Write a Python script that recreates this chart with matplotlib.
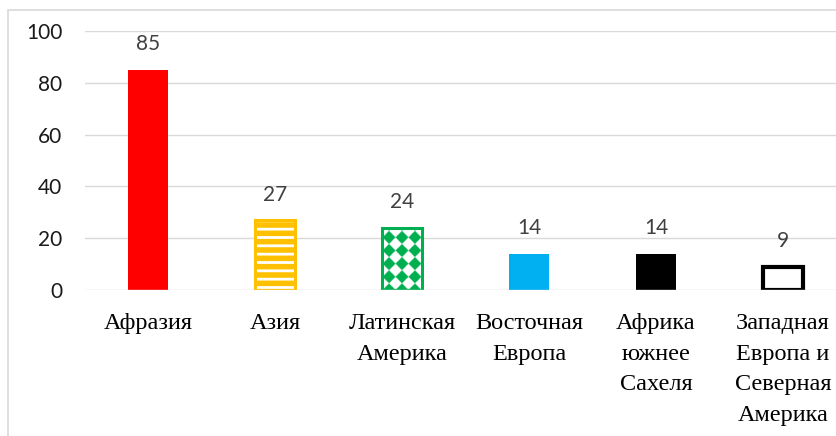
import numpy as np
import matplotlib
matplotlib.use("Agg")
import matplotlib.pyplot as plt
from matplotlib.patches import Rectangle

# data
regions = ["Афразия", "Азия", "Латинская\nАмерика", "Восточная\nЕвропа",
           "Африка\nюжнее\nСахеля", "Западная\nЕвропа и\nСеверная\nАмерика"]
values = [85, 27, 24, 14, 14, 9]
y_ticks = [0, 20, 40, 60, 80, 100]

RED = "#FF0000"
YELLOW = "#FFC000"
GREEN = "#00B050"
BLUE = "#00B0F0"
GRID = "#D9D9D9"

fig = plt.figure(figsize=(8.36, 4.36), dpi=100)
ax = fig.add_axes([84.5 / 836, 146 / 436, 762 / 836, 259 / 436])
ax.set_xlim(-0.5, 5.5)
ax.set_ylim(0, 100)

# outer frame of the chart area (clipped by the figure on right/bottom)
fig.patches.append(Rectangle((8 / 836, -0.1), 1.2, 1.1 - 10 / 436,
                             transform=fig.transFigure, fill=False,
                             edgecolor=GRID, linewidth=1.2))

W = 40 / 127
x = np.arange(len(values))

# plain bars
ax.bar(x[0], values[0], width=W, color=RED, zorder=2)
ax.bar(x[3], values[3], width=W, color=BLUE, zorder=2)
ax.bar(x[4], values[4], width=W, color="black", zorder=2)

# yellow bar with white horizontal stripes
ax.bar(x[1], values[1], width=W, color=YELLOW, zorder=2)
plt.rcParams["hatch.linewidth"] = 2.0
ax.bar(x[1], values[1], width=W, facecolor="none", edgecolor="white",
       hatch="--", linewidth=0, zorder=2.1)
ax.bar(x[1], values[1], width=W, facecolor="none", edgecolor=YELLOW,
       linewidth=2.2, zorder=2.2)

# green bar with diamond checker pattern
gbar = ax.bar(x[2], values[2], width=W, color="white", zorder=2)[0]
sx = 127.0   # px per x unit
sy = 2.59    # px per y unit
x0, x1 = x[2] - W / 2, x[2] + W / 2
nx, ny = 240, 360
gx = (np.linspace(x0, x1, nx) - x[2]) * sx
gy = np.linspace(0, values[2], ny) * sy
PX, PY = np.meshgrid(gx, gy)
a = 13.0
pat = (np.floor((PX + PY + a / 2) / a) + np.floor((PX - PY + a / 2) / a)) % 2
img = np.ones((ny, nx, 3))
g = np.array(matplotlib.colors.to_rgb(GREEN))
img[pat == 0] = g
im = ax.imshow(img, extent=[x0, x1, 0, values[2]], origin="lower",
               aspect="auto", interpolation="bilinear", zorder=2.1)
im.set_clip_path(gbar)
ax.bar(x[2], values[2], width=W, facecolor="none", edgecolor=GREEN,
       linewidth=2.2, zorder=2.2)

# white bar with thick black outline
ax.bar(x[5], values[5], width=W, facecolor="white", edgecolor="black",
       linewidth=3, zorder=2)

ax.set_xlim(-0.5, 5.5)
ax.set_ylim(0, 100)

# value labels
for xi, v in zip(x, values):
    ax.annotate(str(v), (xi, v), xytext=(0, 14), textcoords="offset points",
                ha="center", va="baseline", fontsize=15, color="#404040",
                family="Lato")

# grid
for t in y_ticks[1:]:
    ax.axhline(t, color=GRID, linewidth=1, zorder=1)
ax.axhline(0, color=GRID, linewidth=1, zorder=4)

for s in ax.spines.values():
    s.set_visible(False)

ax.set_yticks(y_ticks)
ax.set_yticklabels([str(t) for t in y_ticks], fontsize=15, family="Lato",
                   color="#1a1a1a")
ax.tick_params(axis="y", length=0, pad=16)

ax.set_xticks(x)
ax.set_xticklabels(regions, fontsize=17.5, family="Liberation Serif",
                   linespacing=1.6)
ax.tick_params(axis="x", length=0, pad=16.5)

fig.savefig("out.png", dpi=100)
